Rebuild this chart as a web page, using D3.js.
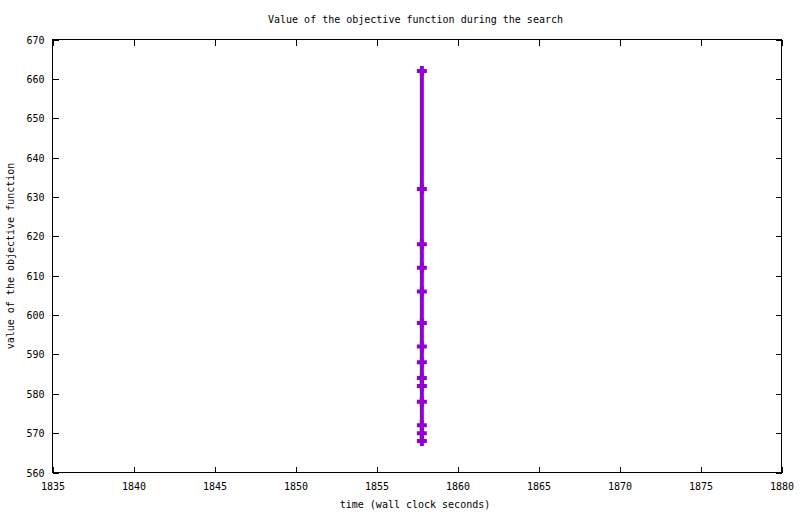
<!DOCTYPE html>
<html>
<head>
<meta charset="utf-8">
<script src="https://cdn.jsdelivr.net/npm/d3@7"></script>
<style>
html,body{margin:0;padding:0;background:#fff;}
svg{display:block;}
text{font-family:"DejaVu Sans Mono",monospace;font-size:10px;fill:#000;}
</style>
</head>
<body>
<svg id="chart" width="800" height="514"></svg>
<script>
// Data
const times = [1857.8,1857.8,1857.8,1857.8,1857.8,1857.8,1857.8,1857.8,1857.8,1857.8,1857.8,1857.8,1857.8,1857.8];
const objective = [662,632,618,612,606,598,592,588,584,582,578,572,570,568];
const xTicks = [1835,1840,1845,1850,1855,1860,1865,1870,1875,1880];
const yTicks = [560,570,580,590,600,610,620,630,640,650,660,670];
const titleText = "Value of the objective function during the search";
const xLabel = "time (wall clock seconds)";
const yLabel = "value of the objective function";

(function(){
const svg = d3.select("#chart");
const pL = 52.5, pR = 781.5, pT = 39.5, pB = 472.5;
const x = d3.scaleLinear().domain([1835,1880]).range([pL,pR]);
const y = d3.scaleLinear().domain([560,670]).range([pB,pT]);

// Border
svg.append("rect").attr("x",pL).attr("y",pT).attr("width",pR-pL).attr("height",pB-pT)
  .attr("fill","none").attr("stroke","#000").attr("stroke-width",1);

const tickLen = 6;
const xb = svg.append("g").attr("transform",`translate(0,${pB})`)
  .call(d3.axisBottom(x).tickValues(xTicks).tickFormat(d3.format("d")).tickSizeInner(-tickLen).tickSizeOuter(0).tickPadding(12));
const xt = svg.append("g").attr("transform",`translate(0,${pT})`)
  .call(d3.axisTop(x).tickValues(xTicks).tickFormat("").tickSizeInner(-tickLen).tickSizeOuter(0));
const yl = svg.append("g").attr("transform",`translate(${pL},0)`)
  .call(d3.axisLeft(y).tickValues(yTicks).tickFormat(d3.format("d")).tickSizeInner(-tickLen).tickSizeOuter(0).tickPadding(8));
const yr = svg.append("g").attr("transform",`translate(${pR},0)`)
  .call(d3.axisRight(y).tickValues(yTicks).tickFormat("").tickSizeInner(-tickLen).tickSizeOuter(0));
[xb,xt,yl,yr].forEach(g=>{
  g.select(".domain").remove();
  g.selectAll("line").attr("stroke","#000").attr("shape-rendering","crispEdges");
  g.selectAll("text").attr("font-family","'DejaVu Sans Mono',monospace").attr("font-size","10px").attr("fill","#000");
});
xb.selectAll("text").attr("dy",null).attr("y",17.5);
yl.selectAll("text").attr("dy","0.35em");

// Labels
svg.append("text").attr("x",415.5).attr("y",23).attr("text-anchor","middle").text(titleText);
svg.append("text").attr("x",415).attr("y",508).attr("text-anchor","middle").text(xLabel);
svg.append("text").attr("transform","translate(14,256) rotate(-90)").attr("text-anchor","middle").text(yLabel);

// Series
const data = times.map((t,i)=>({t,v:objective[i]}));
const color = "#9400d3";
svg.append("path").datum(data)
  .attr("d",d3.line().x(d=>x(d.t)).y(d=>y(d.v)))
  .attr("fill","none").attr("stroke",color).attr("stroke-width",4);
svg.selectAll(".pt").data(data).enter().append("path").attr("class","pt")
  .attr("d",d=>{const cx=x(d.t), cy=y(d.v);return `M${cx-5},${cy}H${cx+5}M${cx},${cy-5}V${cy+5}`;})
  .attr("stroke",color).attr("stroke-width",4).attr("fill","none");
})();
</script>
</body>
</html>
